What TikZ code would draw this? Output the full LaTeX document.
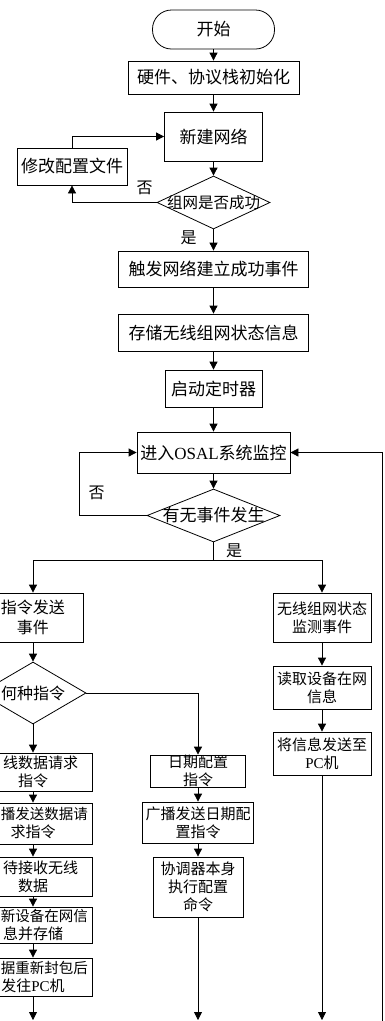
\documentclass[tikz,border=0pt]{standalone}
\usepackage{fontspec}
\setmainfont{Liberation Serif}
\newfontfamily\cjk{Noto Sans CJK SC}
\usetikzlibrary{arrows.meta,shapes.geometric}
\newcommand\padline[1]{{\fontsize{14.5}{18}\selectfont\hspace*{23pt}#1}}
\tikzset{
  box/.style={draw, rectangle, inner sep=0pt, align=center, line width=0.8pt},
  term/.style={box, rounded corners=19pt},
  big/.style={font=\cjk\fontsize{17}{20}\selectfont},
  small/.style={font=\cjk\fontsize{15}{18}\selectfont},
  dia/.style={draw, diamond, inner sep=0pt, line width=0.8pt},
  arr/.style={-{Triangle[length=8pt,width=8pt]}, line width=0.8pt},
  ln/.style={line width=0.8pt},
  lbl/.style={font=\cjk\fontsize{16}{16}\selectfont, inner sep=0pt}
}
\begin{document}
\begin{tikzpicture}[x=1pt,y=-1pt]
\useasboundingbox (0,0) rectangle (384,1021);
\clip (0,0) rectangle (384,1021);
% main column
\node[term,big,minimum width=122pt,minimum height=39pt] (start) at (213.5,29.5) {开始};
\node[box,big,minimum width=171pt,minimum height=33pt] (init) at (213.5,77.5) {硬件、协议栈初始化};
\node[box,big,minimum width=98pt,minimum height=49pt] (newnet) at (213.5,136.5) {新建网络};
\node[box,big,minimum width=110pt,minimum height=37pt] (modify) at (72,166.5) {修改配置文件};
\node[dia,minimum width=113pt,minimum height=53pt,font=\cjk\fontsize{15.5}{16}\selectfont] (d1) at (213.5,202.5) {\makebox[0pt]{组网是否成功}};
\node[lbl] (no1) at (144.5,187.5) {否};
\node[lbl] (yes1) at (188.5,237.5) {是};
\node[box,big,minimum width=190pt,minimum height=36pt] (trig) at (213.5,269) {触发网络建立成功事件};
\node[box,big,minimum width=190pt,minimum height=37pt] (store) at (213.5,332.5) {存储无线组网状态信息};
\node[box,big,minimum width=97pt,minimum height=37pt] (timer) at (213.5,388.5) {启动定时器};
\node[box,big,minimum width=153pt,minimum height=41pt] (osal) at (213.5,452.5) {进入{\rmfamily OSAL}系统监控};
\node[dia,big,minimum width=133pt,minimum height=53pt] (d2) at (213.5,515.5) {\makebox[0pt]{有无事件发生}};
\node[lbl] (no2) at (96.5,493) {否};
\node[lbl] (yes2) at (234,551) {是};
% left column
\node[box,minimum width=100pt,minimum height=49pt,font=\cjk\fontsize{16}{20}\selectfont] (cmd) at (33,617.5) {指令发送\\事件};
\node[dia,minimum width=106pt,minimum height=62pt,font=\cjk\fontsize{16}{16}\selectfont] (d3) at (33,693) {\makebox[0pt]{何种指令}};
\node[box,small,minimum width=118pt,minimum height=38pt] (L1) at (33,772) {\phantom{无}线数据请求\\指令};
\node[box,small,minimum width=118pt,minimum height=41pt] (L2) at (33,823.5) {\padline{播发送数据请}\\求指令};
\node[box,small,minimum width=118pt,minimum height=39pt] (L3) at (33,876.5) {\phantom{等}待接收无线\\数据};
\node[box,small,minimum width=118pt,minimum height=36pt] (L4) at (33,925) {\padline{新设备在网信}\\息并存储};
\node[box,small,minimum width=118pt,minimum height=38pt] (L5) at (33,977) {\padline{据重新封包后}\\发往{\rmfamily PC}机};
% middle column
\node[box,small,minimum width=95pt,minimum height=32pt] (M1) at (198,771) {日期配置\\指令};
\node[box,small,minimum width=111pt,minimum height=41pt] (M2) at (198,822.5) {广播发送日期配\\置指令};
\node[box,small,minimum width=90pt,minimum height=60pt] (M3) at (198,887) {协调器本身\\执行配置\\命令};
% right column
\node[box,small,minimum width=98pt,minimum height=49pt] (R1) at (322,617.5) {无线组网状态\\监测事件};
\node[box,small,minimum width=98pt,minimum height=43pt] (R2) at (322,687.5) {读取设备在网\\信息};
\node[box,small,minimum width=98pt,minimum height=43pt] (R3) at (322,753.5) {将信息发送至\\{\rmfamily PC}机};
% coordinates
\coordinate (lp) at (79,515.5);
\coordinate (sp) at (213.5,560);
\coordinate (e1) at (33,1020);
\coordinate (e2) at (198,1020);
\coordinate (e3) at (322,1020);
\coordinate (rb) at (382.5,1021);
% connectors
\draw[arr] (start) -- (init);
\draw[arr] (init) -- (newnet);
\draw[arr] (newnet) -- (d1);
\draw[arr] (d1) -- (trig);
\draw[arr] (d1.west) -| (modify.south);
\draw[arr] (modify.north) |- (newnet.west);
\draw[arr] (trig) -- (store);
\draw[arr] (store) -- (timer);
\draw[arr] (timer) -- (osal);
\draw[arr] (osal) -- (d2);
\draw[arr] (d2.west) -- (lp) |- (osal.west);
\draw[ln] (d2.south) -- (sp);
\draw[arr] (sp) -| (cmd.north);
\draw[arr] (sp) -| (R1.north);
\draw[arr] (cmd) -- (d3);
\draw[arr] (d3.south) -- (L1.north);
\draw[arr] (d3.east) -| (M1.north);
\draw[arr] (L1) -- (L2);
\draw[arr] (L2) -- (L3);
\draw[arr] (L3) -- (L4);
\draw[arr] (L4) -- (L5);
\draw[arr] (L5) -- (e1);
\draw[arr] (M1) -- (M2);
\draw[arr] (M2) -- (M3);
\draw[arr] (M3) -- (e2);
\draw[arr] (R1) -- (R2);
\draw[arr] (R2) -- (R3);
\draw[arr] (R3) -- (e3);
\draw[arr] (rb) |- (osal.east);
\end{tikzpicture}
\end{document}
